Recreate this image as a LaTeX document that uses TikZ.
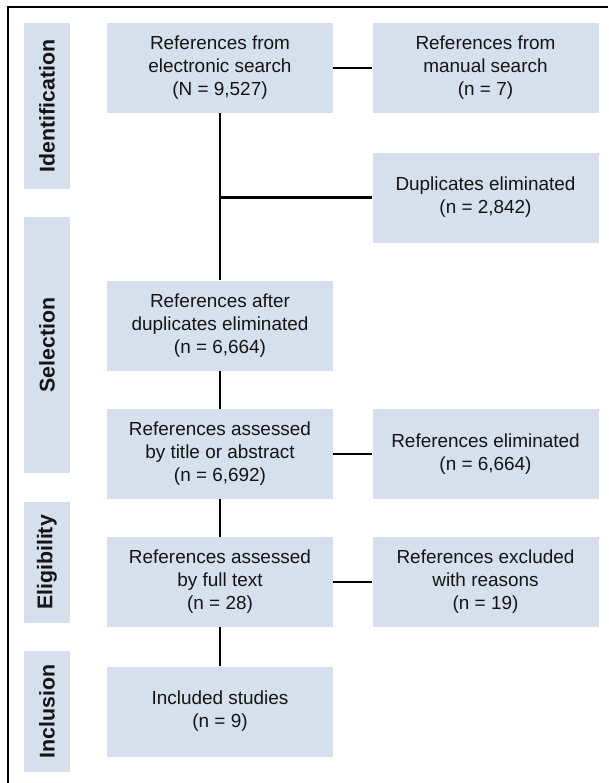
\documentclass[tikz,border=0pt]{standalone}
\usepackage{fontspec}
\setmainfont{Liberation Sans}
\definecolor{boxfill}{RGB}{214,223,236}
\definecolor{txt}{RGB}{20,20,20}
\begin{document}
\begin{tikzpicture}[x=0.75pt,y=-0.75pt,
  box/.style={rectangle, fill=boxfill, inner sep=0pt, minimum width=169.5pt, minimum height=67.5pt, align=center, text=txt, font=\fontsize{14.2}{17.25}\selectfont},
  lab/.style={rectangle, fill=boxfill, inner sep=0pt, minimum height=34.5pt, rotate=90, text=txt, font=\fontsize{16}{18}\selectfont\bfseries},
  conn/.style={draw=black, line width=2pt},
  frame/.style={draw=black, line width=1.2pt}]
\useasboundingbox (0,0) rectangle (608,783);
\draw[frame] (8,783) -- (8,7) -- (608,7);

\node[box] (b1) at (220,68) {References from\\electronic search\\(N = 9,527)};
\node[box] (man) at (485.5,68) {References from\\manual search\\(n = 7)};
\node[box] (dup) at (485.5,197.5) {Duplicates eliminated\\(n = 2,842)};
\node[box] (b2) at (220,325.5) {References after\\duplicates eliminated\\(n = 6,664)};
\node[box] (b3) at (220,454) {References assessed\\by title or abstract\\(n = 6,692)};
\node[box] (elim) at (485.5,454) {References eliminated\\(n = 6,664)};
\node[box] (b4) at (220,582) {References assessed\\by full text\\(n = 28)};
\node[box] (excl) at (485.5,582) {References excluded\\with reasons\\(n = 19)};
\node[box] (b5) at (220,711.5) {Included studies\\(n = 9)};

\node[lab, minimum width=124.5pt] (l1) at (47,106) {Identification};
\node[lab, minimum width=192pt] (l2) at (47,345) {Selection};
\node[lab, minimum width=90.75pt] (l3) at (47,562.5) {Eligibility};
\node[lab, minimum width=90.75pt] (l4) at (47,711.5) {Inclusion};

\coordinate (br) at (b1.south |- dup.west);
\draw[conn] (b1.east) -- (man.west);
\draw[conn] (b1.south) -- (b2.north);
\draw[conn] (br) -- (dup.west);
\draw[conn] (b2.south) -- (b3.north);
\draw[conn] (b3.east) -- (elim.west);
\draw[conn] (b3.south) -- (b4.north);
\draw[conn] (b4.east) -- (excl.west);
\draw[conn] (b4.south) -- (b5.north);
\end{tikzpicture}
\end{document}
